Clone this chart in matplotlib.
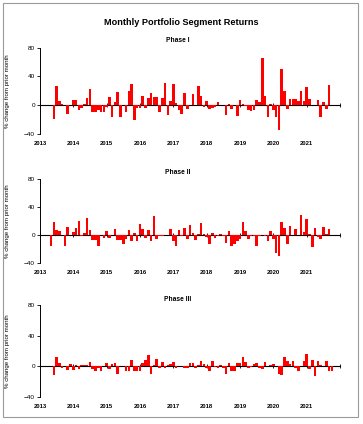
# Monthly Portfolio Segment Returns - three phases, monthly % change bars

import pandas as pd
import matplotlib
matplotlib.use("Agg")
from matplotlib import pyplot as plt
from matplotlib.patches import Rectangle

plt.rcParams["font.family"] = ["Liberation Sans", "DejaVu Sans"]

years = list(range(2013, 2023))
year_labels = [str(y) for y in range(2013, 2022)] + [""]

# Phase I : June 2013 -
phase1_start = "2013-06-01"
phase1 = [-19, 27, 6, 2, 0, -12, 0, 7, 7, -6,
          -4, 2, 10, 23, -9, -9, -6, -10, -10, -2,
          12, -17, 5, 19, -17, 0, -10, 20, 30, -20,
          -4, -4, 13, -4, 10, 17, 12, 12, -9, 10,
          31, -13, 6, 30, 3, -7, -12, 17, -5, 0,
          16, 1, 27, 13, -2, 6, -5, -4, -2, 5,
          0, 0, -13, 2, -5, 0, -15, 7, 2, -1,
          -7, -8, -6, 7, 4, 65, 13, -16, 2, -6,
          -16, -35, 51, 20, -5, 9, 9, 9, 6, 20,
          6, 25, 9, 0, 0, 7, -16, 5, -5, 28]

# Phase II : May 2013 -
phase2_start = "2013-05-01"
phase2 = [-15, 19, 7, 6, 0, -15, 11, 0, 4, 10,
          20, -2, 3, 24, 7, -7, -7, -16, 0, -4,
          6, -4, 0, 8, -7, -7, -12, -6, 7, -9,
          3, -9, 16, 8, -4, 7, -8, 27, -5, -2,
          -2, 0, 0, 8, -8, -15, 7, -2, 10, -5,
          14, 3, -7, 1, 17, 1, -3, -12, 3, -4,
          -2, 1, -2, -11, 6, -15, -12, -8, -6, 18,
          6, -5, -1, -1, -15, -1, 0, -1, -8, 6,
          -5, -25, -29, 19, 10, -13, 13, 0, 8, 0,
          28, 4, 23, 1, -17, 10, -3, -5, 11, 2,
          9]

# Phase III : June 2013 -
phase3_start = "2013-06-01"
phase3 = [-12, 12, 4, -2, 0, -5, 3, -5, 2, -4,
          1, 1, 1, 5, -4, -6, -3, -7, 0, 4,
          -4, 3, 4, -10, 0, 0, -6, -6, 8, -7,
          -6, -7, 4, 8, 15, -10, 1, 9, -3, 6,
          -2, 1, 3, 5, -3, 0, 0, -3, -3, 4,
          4, -3, 2, 7, 3, -2, -6, 7, -1, -2,
          2, -2, -10, 4, -7, -6, 4, 4, 12, 5,
          -2, -1, 3, 4, -2, -4, 5, 0, 1, 3,
          0, -10, -11, 12, 7, 3, 7, -2, -7, 0,
          7, 16, -4, 8, -13, 7, 1, 0, 7, -7,
          -7]

panels = [("Phase I", phase1_start, phase1),
          ("Phase II", phase2_start, phase2),
          ("Phase III", phase3_start, phase3)]

# axes boxes in figure fraction (left, bottom, width, height)
boxes = [(0.110, 0.684, 0.827, 0.2035),
         (0.110, 0.379, 0.827, 0.200),
         (0.110, 0.0644, 0.827, 0.2163)]
title_pads = [4.0, 3.3, 2.7]


def to_year(start, n):
    d = pd.date_range(start, periods=n, freq="MS")
    return d.year + (d.month - 1) / 12


fig = plt.figure(figsize=(3.63, 4.24), dpi=100)

# grey chart border
fig.patches.append(Rectangle((3 / 363, 1 - 417 / 424), 355 / 363, 414 / 424,
                             transform=fig.transFigure, fill=False,
                             edgecolor="#9a9a9a", linewidth=0.8))

fig.text(0.499, 0.948, "Monthly Portfolio Segment Returns", ha="center",
         va="center", fontsize=6.6, fontweight="bold")

for (name, start, vals), box, tp in zip(panels, boxes, title_pads):
    ax = fig.add_axes(box)
    x = to_year(start, len(vals))
    ax.bar(x, vals, width=0.92 / 12, color="#ff0000", linewidth=0, zorder=2)

    ax.set_xlim(2013, 2022)
    ax.set_ylim(-40, 80)
    ax.set_yticks([-40, 0, 40, 80])
    ax.set_xticks(years)
    ax.set_xticklabels(year_labels, fontsize=4.2, fontweight="bold")
    ax.tick_params(axis="x", length=0, pad=5)
    ax.tick_params(axis="y", length=2, width=0.6, pad=1.5, labelsize=4.6)
    for s in ["top", "right", "bottom"]:
        ax.spines[s].set_visible(False)
    ax.spines["left"].set_linewidth(0.7)

    ax.set_ylabel("% change from prior month", fontsize=4.4)
    ax.yaxis.set_label_coords(-0.1, 0.5)
    ax.set_title(name, fontsize=4.8, fontweight="bold", pad=tp, x=0.46)

    # zero line with cross ticks at each year
    zero = ax.secondary_xaxis(1 / 3)
    zero.set_xticks(years)
    zero.tick_params(direction="inout", length=3.5, width=0.6,
                     labelbottom=False, labeltop=False)
    for s in zero.spines.values():
        s.set_linewidth(0.8)

fig.savefig("out.png", dpi=100)
